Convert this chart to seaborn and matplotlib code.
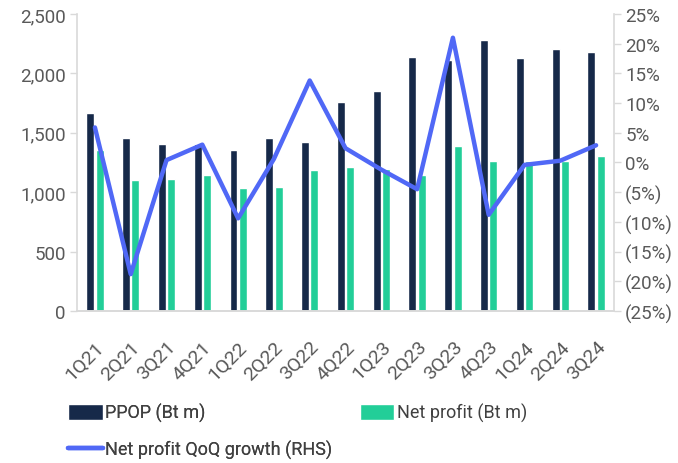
import numpy as np
import pandas as pd
import matplotlib
matplotlib.use("Agg")
import matplotlib.pyplot as plt
import seaborn as sns
from matplotlib.patches import Patch
from matplotlib.lines import Line2D
from matplotlib.ticker import FuncFormatter

quarters = ['1Q21', '2Q21', '3Q21', '4Q21', '1Q22', '2Q22', '3Q22', '4Q22',
            '1Q23', '2Q23', '3Q23', '4Q23', '1Q24', '2Q24', '3Q24']
ppop = [1670, 1456, 1403, 1405, 1355, 1459, 1422, 1757,
        1852, 2138, 2113, 2281, 2130, 2208, 2180]
net_profit = [1358, 1103, 1109, 1142, 1035, 1041, 1184, 1212,
              1198, 1147, 1389, 1265, 1260, 1265, 1302]
qoq_growth = [5.9, -18.8, 0.4, 3.0, -9.4, 0.6, 13.8, 2.4,
              -1.2, -4.5, 21.0, -8.8, -0.4, 0.3, 2.9]

NAVY = '#162949'
GREEN = '#22CE98'
BLUE = '#5068F6'
GREY = '#595959'
SPINE = '#D9D9D9'

sns.set_style('white')
plt.rcParams['font.family'] = ['Roboto', 'DejaVu Sans']

df = pd.DataFrame({'quarter': quarters, 'PPOP (Bt m)': ppop,
                   'Net profit (Bt m)': net_profit})
df_long = df.melt(id_vars='quarter', var_name='series', value_name='value')

fig = plt.figure(figsize=(6.78, 4.64), dpi=100)
ax = fig.add_axes([0.1136, 0.3276, 0.792, 0.6401])

sns.barplot(data=df_long, x='quarter', y='value', hue='series',
            order=quarters, palette=[NAVY, GREEN], width=0.52, gap=0.15,
            saturation=1, legend=False, ax=ax)
ax.set_xlim(-0.5, len(quarters) - 0.5)
ax.set_ylim(0, 2500)
ax.set_yticks(range(0, 2501, 500))
ax.yaxis.set_major_formatter(FuncFormatter(lambda v, p: f'{int(v):,}'))
ax.set(xlabel='', ylabel='')

ax2 = ax.twinx()
sns.lineplot(x=np.arange(len(quarters)), y=qoq_growth, color=BLUE,
             linewidth=3.2, ax=ax2)
ax2.set_ylim(-25, 25)
ax2.set_yticks(range(-25, 26, 5))
ax2.yaxis.set_major_formatter(
    FuncFormatter(lambda v, p: f'({abs(int(v))}%)' if v < 0 else f'{int(v)}%'))
ax2.set_ylabel('')

for a in (ax, ax2):
    a.spines['top'].set_visible(False)
    for side in ('left', 'right', 'bottom'):
        a.spines[side].set_color(SPINE)
        a.spines[side].set_linewidth(1.2)
    a.tick_params(axis='y', colors=GREY, labelsize=13.5, length=5,
                  width=1, color=SPINE, pad=3)
ax2.spines['left'].set_visible(False)
ax.spines['right'].set_visible(False)

ax.tick_params(axis='x', length=0, labelsize=14, colors=GREY, pad=19)
plt.setp(ax.get_xticklabels(), rotation=45, ha='right',
         rotation_mode='anchor')

h_ppop = Patch(facecolor=NAVY, label='PPOP (Bt m)')
h_np = Patch(facecolor=GREEN, label='Net profit (Bt m)')
h_line = Line2D([], [], color=BLUE, linewidth=3.2,
                label='Net profit QoQ growth (RHS)')

leg1 = fig.legend(handles=[h_ppop, h_line], loc='upper left',
                  bbox_to_anchor=(0.09, 0.145), frameon=False,
                  fontsize=13, handlelength=1.9, handleheight=1.0,
                  handletextpad=0.15, labelspacing=1.0,
                  labelcolor='#404040', borderaxespad=0)
fig.legend(handles=[h_np], loc='upper left',
           bbox_to_anchor=(0.52, 0.145), frameon=False,
           fontsize=13, handlelength=1.9, handleheight=1.0,
           handletextpad=0.15, labelcolor='#404040', borderaxespad=0)
fig.add_artist(leg1)

fig.savefig('out.png', dpi=100)
